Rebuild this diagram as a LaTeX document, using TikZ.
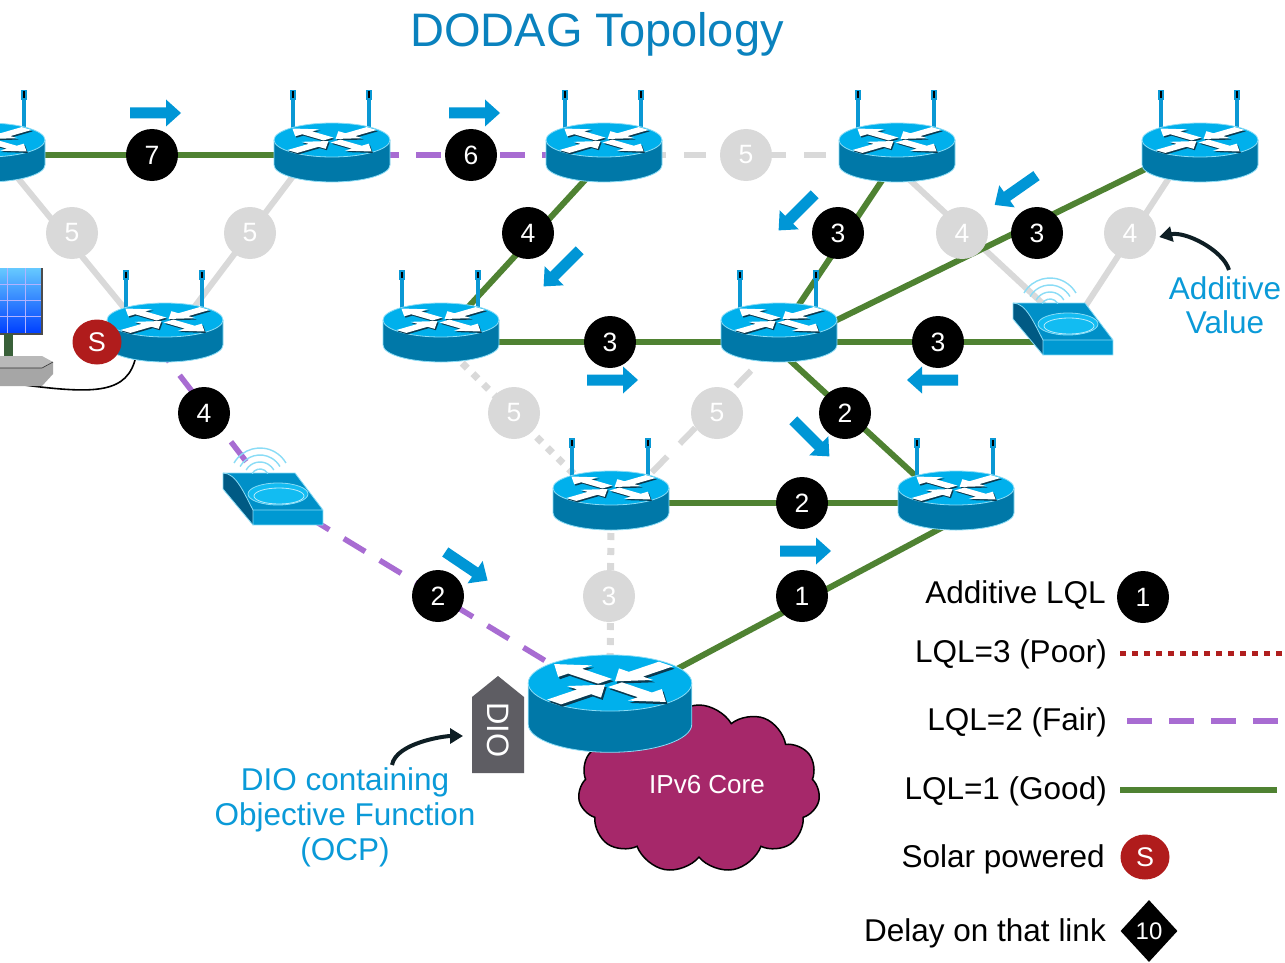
\documentclass[tikz,border=0pt]{standalone}
\usepackage{fontspec}
\setmainfont{Liberation Sans}
\usetikzlibrary{calc,shapes.symbols,shapes.geometric,arrows.meta}

\definecolor{rtop}{HTML}{00B0EC}
\definecolor{rbody}{HTML}{0078A8}
\definecolor{redge}{HTML}{8ADCF6}
\definecolor{rshadow}{HTML}{0A3A50}
\definecolor{antblue}{HTML}{0A98D4}
\definecolor{goodgreen}{HTML}{4F8232}
\definecolor{fairpurple}{HTML}{A86CD2}
\definecolor{poorred}{HTML}{B01E1E}
\definecolor{linkgray}{HTML}{D9D9D9}
\definecolor{flowblue}{HTML}{0096D6}
\definecolor{titleblue}{HTML}{0A82BE}
\definecolor{noteblue}{HTML}{0A9AD8}
\definecolor{coremag}{HTML}{A6286A}
\definecolor{diogray}{HTML}{5E5D63}
\definecolor{solarred}{HTML}{B01C1C}
\definecolor{apdark}{HTML}{005A84}
\definecolor{aptop}{HTML}{0090C8}
\definecolor{apfront}{HTML}{0099D2}
\definecolor{apdisc}{HTML}{12BCF2}
\definecolor{bendblack}{HTML}{0E1E24}

\newcommand\ttlfont{\fontsize{47}{52}\selectfont}
\newcommand\lblfont{\fontsize{31.5}{35}\selectfont}
\newcommand\bdgfont{\fontsize{26.5}{26.5}\selectfont}
\newcommand\corefont{\fontsize{26}{30}\selectfont}

% the four arrows printed on a router's top disc (drawn in a flattened frame)
\newcommand\rtrarrows[1]{%
  \foreach \a in {135,-45}
    \fill[#1,rotate=\a] (5,-7) -- (35,-7) -- (35,-17) -- (56,0) -- (35,17) -- (35,7) -- (5,7) -- cycle;
  \foreach \a in {45,225}
    \fill[#1,rotate=\a] (56,-7) -- (26,-7) -- (26,-17) -- (5,0) -- (26,17) -- (26,7) -- (56,7) -- cycle;
}

\tikzset{
  % router icon: top disc, cylinder body, four white arrows
  pics/routerbody/.style={code={
    \fill[rbody] (-58,0) -- (-58,25) arc[start angle=180,end angle=0,x radius=58,y radius=17] -- (58,0) -- cycle;
    \draw[redge,line width=0.8pt] (-58,0) -- (-58,25) arc[start angle=180,end angle=0,x radius=58,y radius=17] -- (58,0);
    \fill[rtop] (0,0) ellipse[x radius=58,y radius=17];
    \draw[redge,line width=0.8pt] (0,0) ellipse[x radius=58,y radius=17];
    \begin{scope}[shift={(1.2,1.4)},yscale=0.29]
      \rtrarrows{rshadow}
    \end{scope}
    \begin{scope}[yscale=0.29]
      \rtrarrows{white}
    \end{scope}
  }},
  pics/router/.style={code={
    \foreach \ax in {-39,37} {
      \fill[antblue] (\ax-2.2,-44) rectangle (\ax+2.2,-8);
      \fill[antblue] (\ax-3.2,-50) rectangle (\ax+3.2,-40);
      \fill[black] (\ax-1,-48.5) rectangle (\ax+1,-42);
    }
    \pic {routerbody};
  }},
  % wireless access point
  pics/accesspoint/.style={code={
    \fill[aptop] (-49,-22) -- (23,-22) -- (51,15) -- (-19,15) .. controls (-28,-2) and (-36,-22) .. cycle;
    \fill[apdark] (-49,-22) .. controls (-36,-22) and (-28,-2) .. (-19,15) -- (-19,30) -- (-49,-6) -- cycle;
    \fill[apfront] (-19,15) rectangle (51,30);
    \draw[redge,line width=0.8pt,line join=round] (-49,-6) -- (-49,-22) -- (23,-22) -- (51,15) -- (51,30) -- (-19,30) -- (-19,15) -- (51,15);
    \draw[redge,line width=0.8pt] (-49,-22) .. controls (-36,-22) and (-28,-2) .. (-19,15);
    \draw[redge,line width=0.8pt] (-49,-6) -- (-19,30);
    \fill[apdisc,draw=redge,line width=0.8pt] (6,-1) ellipse[x radius=30,y radius=11];
    \draw[redge!60!white,line width=0.8pt] (7,1) ellipse[x radius=25,y radius=8];
    \foreach \r in {9,16,23,30}
      \draw[redge,line width=1.4pt] (-12,-17) ++(210:\r) arc[start angle=210,end angle=330,radius=\r];
  }},
  % blue flow arrow, pointing right before rotation
  pics/flowarrow/.style={code={
    \fill[flowblue] (-25,-5.5) -- (11,-5.5) -- (11,-13.5) -- (26,0) -- (11,13.5) -- (11,5.5) -- (-25,5.5) -- cycle;
  }},
  good/.style={draw=goodgreen,line width=6pt},
  fair/.style={draw=fairpurple,line width=5.5pt,dash pattern=on 25pt off 17pt},
  poor/.style={draw=poorred,line width=5pt,dash pattern=on 6pt off 6pt},
  weak/.style={draw=linkgray,line width=6pt},
  weakdash/.style={weak,dash pattern=on 22pt off 18pt},
  weakdot/.style={weak,line width=7pt,dash pattern=on 7pt off 8pt},
  lqlbadge/.style={circle,fill=black,text=white,minimum size=52pt,inner sep=0pt,font=\bdgfont},
  offbadge/.style={lqlbadge,fill=linkgray},
  solarbadge/.style={ellipse,fill=solarred,text=white,minimum width=49pt,minimum height=45pt,inner sep=0pt,font=\fontsize{27}{27}\selectfont},
  legendtext/.style={font=\lblfont,anchor=base east,inner sep=0pt},
  notetext/.style={font=\lblfont,text=noteblue,anchor=base,inner sep=0pt},
  bendarrow/.style={draw=bendblack,line width=4pt,-{Triangle[length=13pt,width=15pt]}},
}

\begin{document}
\begin{tikzpicture}[x=1pt,y=-1pt]
\useasboundingbox (0,0) rectangle (1285,963);
\fill[white] (0,0) rectangle (1285,963);
\clip (0,0) rectangle (1285,963);

% IPv6 core cloud
\node[cloud,cloud puffs=11,cloud puff arc=120,aspect=1.45,draw=black,line width=1.5pt,fill=coremag,
      minimum width=242pt,minimum height=168pt] (core) at (699,789) {};

% attachment points of the links
\coordinate (r1) at (-13,155);
\coordinate (r2) at (332,155);
\coordinate (r3) at (604,155);
\coordinate (r4) at (897,155);
\coordinate (r5) at (1200,155);
\coordinate (r6) at (165,342);
\coordinate (r7) at (441,342);
\coordinate (r8) at (779,342);
\coordinate (r9) at (611,503);
\coordinate (r10) at (956,503);
\coordinate (root) at (610,700);
\coordinate (ap1) at (272,495);
\coordinate (ap2) at (1062,342);

% links
\draw[good] (r1) -- (r2);
\draw[fair] (r2) -- (r3);
\draw[weakdash] (r3) -- (r4);
\draw[weak] ($(r1)+(12,0)$) -- ($(r6)+(-13,0)$);
\draw[weak] ($(r2)+(-23,0)$) -- ($(r6)+(3,0)$);
\draw[good] ($(r3)+(4,0)$) -- ($(r7)+(-5,0)$);
\draw[good] ($(r4)+(2,0)$) -- ($(r8)+(-5,0)$);
\draw[weak] ($(r4)+(-14,0)$) -- ($(ap2)+(22,0)$);
\draw[good] ($(r5)+(-26,0)$) -- ($(r8)+(13,0)$);
\draw[weak] ($(r5)+(-16,0)$) -- (ap2);
\draw[good] (r7) -- (r8);
\draw[good] (r8) -- (ap2);
\draw[weakdot] (r7) -- ($(r9)+(-8,0)$);
\draw[weakdash] (r8) -- ($(r9)+(11,0)$);
\draw[good] ($(r8)+(-9,0)$) -- ($(r10)+(-11,0)$);
\draw[good] (r9) -- (r10);
\draw[fair] ($(r6)+(-11,0)$) -- (ap1);
\draw[fair] (ap1) -- (root);
\draw[weakdot] (r9) -- (root);
\draw[good] ($(r10)+(32,0)$) -- ($(root)+(9,0)$);

% link costs
\node[lqlbadge] (c7) at (152,155) {7};
\node[lqlbadge] (c6) at (471,155) {6};
\node[offbadge] (g5a) at (746,155) {5};
\node[offbadge] (g5b) at (72,233) {5};
\node[offbadge] (g5c) at (250,233) {5};
\node[lqlbadge] (c4a) at (528,233) {4};
\node[lqlbadge] (c3a) at (838,233) {3};
\node[offbadge] (g4a) at (962,233) {4};
\node[lqlbadge] (c3b) at (1037,233) {3};
\node[offbadge] (g4b) at (1130,233) {4};
\node[lqlbadge] (c3c) at (610,342) {3};
\node[lqlbadge] (c3d) at (938,342) {3};
\node[lqlbadge] (c4b) at (204,413) {4};
\node[offbadge] (g5d) at (514,413) {5};
\node[offbadge] (g5e) at (717,413) {5};
\node[lqlbadge] (c2a) at (845,413) {2};
\node[lqlbadge] (c2b) at (802,503) {2};
\node[lqlbadge] (c2c) at (438,596) {2};
\node[offbadge] (g3) at (609,596) {3};
\node[lqlbadge] (c1) at (802,596) {1};

% solar panel with its cable
\coordinate (solarbase) at (24,385);
\coordinate (r6jack) at (136,356);
\draw[black,line width=1.6pt] (r6jack) .. controls (128,394) and (95,394) .. (solarbase);
\shade[top color=blue!35!cyan!60,bottom color=blue!75!cyan] (-20,268) -- (42,268) -- (42,333) -- (-20,333) -- cycle;
\foreach \gx in {7,25} \draw[white!70!blue,line width=0.8pt] (\gx,268) -- (\gx,333);
\foreach \gy in {284,300,316} \draw[white!70!blue,line width=0.8pt] (-20,\gy) -- (42,\gy);
\draw[black!70,line width=2pt] (42,268) -- (42,334) -- (-20,334);
\fill[gray!75!green!60!black] (4,334) rectangle (13,358);
\fill[gray!55] (-10,356) -- (42,356) -- (53,362) -- (42,368) -- (-10,368) -- cycle;
\fill[gray!70] (-10,368) -- (42,368) -- (53,362) -- (53,374) -- (42,386) -- (-10,386) -- cycle;
\draw[gray!40!black,line width=0.6pt] (-10,368) -- (42,368) -- (53,362);

% routers
\pic at (-13,140) {router};
\pic at (332,140) {router};
\pic at (604,140) {router};
\pic at (897,140) {router};
\pic at (1200,140) {router};
\pic at (165,320) {router};
\pic at (441,320) {router};
\pic at (779,320) {router};
\pic at (611,488) {router};
\pic at (956,488) {router};
\pic[xscale=1.41,yscale=1.65] at (610,683) {routerbody};

% access points
\pic at (272,495) {accesspoint};
\pic at (1062,325) {accesspoint};

% solar power mark
\node[solarbadge] (sbadge) at (97,342) {S};

% flow direction arrows
\pic at (155,113) {flowarrow};
\pic at (474,113) {flowarrow};
\pic[rotate=225] at (562,268) {flowarrow};
\pic[rotate=225] at (797,212) {flowarrow};
\pic[rotate=215] at (1016,190) {flowarrow};
\pic at (612,380) {flowarrow};
\pic[rotate=180] at (933,380) {flowarrow};
\pic[rotate=-45] at (811,438) {flowarrow};
\pic at (805,551) {flowarrow};
\pic[rotate=-34] at (466,566) {flowarrow};

% DIO message tag
\fill[diogray] (472,697) -- (498,676) -- (524,697) -- (524,773) -- (472,773) -- cycle;
\node[text=white,font=\fontsize{31}{31}\selectfont,rotate=-90,inner sep=0pt] (diotag) at (498,730) {DIO};
\coordinate (diotagside) at (472,736);

% titles and notes
\node[font=\ttlfont,text=titleblue,anchor=base,inner sep=0pt] (title) at (597,47) {DODAG Topology};
\node[font=\corefont,text=white,anchor=base,inner sep=0pt] (coretxt) at (707,793) {IPv6 Core};
\node[notetext] (addv1) at (1225,299) {Additive};
\node[notetext] (addv2) at (1225,333) {Value};
\node[notetext] (dio1) at (345,790) {DIO containing};
\node[notetext] (dio2) at (345,825) {Objective Function};
\node[notetext] (dio3) at (345,860) {(OCP)};

\draw[bendarrow] ($(addv1.north)+(4,-6)$) .. controls +(-6,-20) and +(26,-6) .. ($(g4b.east)+(3,4)$);
\draw[bendarrow,shorten >=9pt] ($(dio1.north)+(47,-2)$) .. controls +(4,-22) and +(-28,0) .. (diotagside);

% legend
\node[legendtext] (lg1) at (1106,603) {Additive LQL};
\node[lqlbadge] (lgc) at (1143,597) {1};
\node[legendtext] (lg2) at (1107,662) {LQL=3 (Poor)};
\coordinate (lp1) at (1120,653);
\coordinate (lp2) at (1286,653);
\draw[poor] (lp1) -- (lp2);
\node[legendtext] (lg3) at (1107,730) {LQL=2 (Fair)};
\coordinate (lf1) at (1127,721);
\coordinate (lf2) at (1286,721);
\draw[fair] (lf1) -- (lf2);
\node[legendtext] (lg4) at (1107,799) {LQL=1 (Good)};
\coordinate (lq1) at (1120,790);
\coordinate (lq2) at (1277,790);
\draw[good] (lq1) -- (lq2);
\node[legendtext] (lg5) at (1105,867) {Solar powered};
\node[solarbadge] (lgs) at (1145,857) {S};
\node[legendtext] (lg6) at (1106,941) {Delay on that link};
\node[diamond,fill=black,text=white,minimum width=57pt,minimum height=62pt,inner sep=0pt,
      font=\fontsize{24}{24}\selectfont] (lgd) at (1149,931) {10};
\end{tikzpicture}
\end{document}
